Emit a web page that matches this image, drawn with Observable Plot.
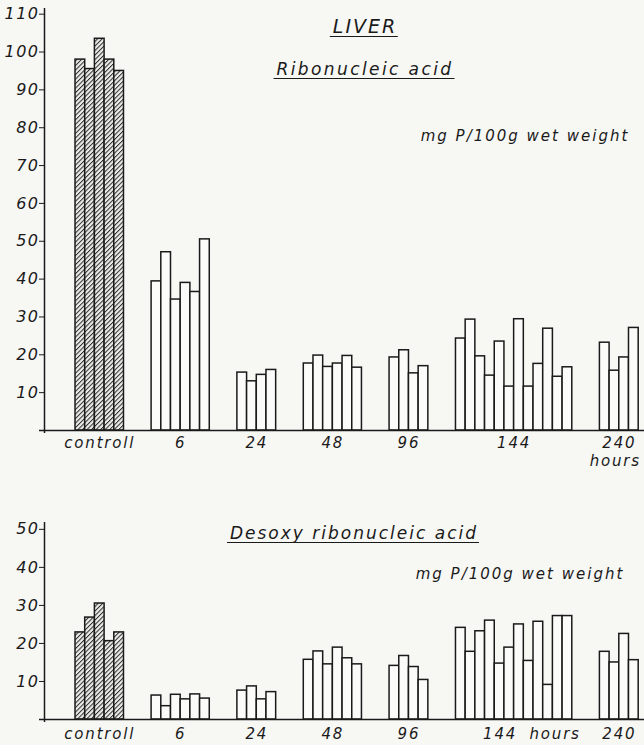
<!DOCTYPE html>
<html><head><meta charset="utf-8">
<script src="https://cdn.jsdelivr.net/npm/d3@7"></script>
<script src="https://cdn.jsdelivr.net/npm/@observablehq/plot@0.6"></script>
<style>
html,body{margin:0;padding:0;background:#f7f7f4;}
#wrap{position:relative;width:644px;height:745px;overflow:hidden;font-family:"DejaVu Sans",sans-serif;font-style:italic;color:#1a1a1a;}
.lbl{position:absolute;white-space:nowrap;transform:translateX(-50%);line-height:1;}
.ul{border-bottom:1.6px solid #1a1a1a;padding:0 1px 0 3px;}
#wrap svg{display:block;}
#wrap svg [aria-label^="y-axis"] text{font-size:16px;letter-spacing:1.5px;}
</style></head><body>
<svg width="0" height="0" style="position:absolute">
<defs><pattern id="hatch" patternUnits="userSpaceOnUse" width="3.2" height="3.2" patternTransform="rotate(45)">
<rect width="3.2" height="3.2" fill="#ececE8"/>
<line x1="0.5" y1="0" x2="0.5" y2="3.2" stroke="#2a2a2a" stroke-width="1"/></pattern></defs></svg>
<div id="wrap"></div>
<script>
// ---- data ----
const groups = ["controll", "6", "24", "48", "96", "144", "240"];
// Ribonucleic acid (mg P / 100 g wet weight), bars per group
const rnaControll = [98, 95.5, 103.5, 98, 95];
const rna6   = [39.4, 47.1, 34.6, 39.0, 36.6, 50.5];
const rna24  = [15.3, 13.0, 14.7, 16.0];
const rna48  = [17.7, 19.8, 16.8, 17.7, 19.7, 16.6];
const rna96  = [19.3, 21.2, 15.1, 17.0];
const rna144 = [24.3, 29.3, 19.6, 14.5, 23.5, 11.6, 29.4, 11.6, 17.6, 26.9, 14.2, 16.7];
const rna240 = [23.2, 15.8, 19.3, 27.1];
// Desoxyribonucleic acid
const dnaControll = [22.9, 26.8, 30.5, 20.6, 22.9];
const dna6   = [6.3, 3.5, 6.5, 5.3, 6.6, 5.5];
const dna24  = [7.6, 8.7, 5.3, 7.2];
const dna48  = [15.7, 17.9, 14.5, 18.9, 16.1, 14.5];
const dna96  = [14.1, 16.7, 13.8, 10.4];
const dna144 = [24.1, 17.8, 23.2, 26.0, 14.7, 18.9, 25.0, 15.4, 25.7, 9.1, 27.2, 27.2];
const dna240 = [17.8, 15.0, 22.5, 15.6];
const rnaTicks = [10, 20, 30, 40, 50, 60, 70, 80, 90, 100, 110];
const dnaTicks = [10, 20, 30, 40, 50];

const rnaValues = [rnaControll, rna6, rna24, rna48, rna96, rna144, rna240];
const dnaValues = [dnaControll, dna6, dna24, dna48, dna96, dna144, dna240];

// ---- layout in bar units ----
const gapUnits = 2.85;
function layout(values) {
  const bars = [], centers = [];
  let pos = 0;
  values.forEach((vals, gi) => {
    const start = pos;
    vals.forEach((v, i) => bars.push({group: groups[gi], x1: pos + i, x2: pos + i + 1, value: v, control: gi === 0}));
    pos += vals.length;
    centers.push({label: groups[gi], x: (start + pos) / 2});
    pos += gapUnits;
  });
  return {bars, centers, end: pos - gapUnits};
}

const ink = "#1a1a1a";
const baseStyle = {fontFamily: "DejaVu Sans", fontSize: "15px", fontStyle: "italic", letterSpacing: "1.8px",
  background: "transparent", color: ink, overflow: "visible"};

function chart(values, ticks, yMax, height, mt, mb, extraMarks) {
  const L = layout(values);
  const xDomain = [-3.2, L.end + 0.6];
  return Plot.plot({
    width: 644, height, marginLeft: 44, marginRight: 0, marginTop: mt, marginBottom: mb,
    style: baseStyle,
    x: {domain: xDomain, axis: null},
    y: {domain: [0, yMax], ticks, tickSize: 5, tickPadding: 0, label: null},
    marks: [
      Plot.rectY(L.bars.filter(d => d.control), {x1: "x1", x2: "x2", y: "value", fill: "url(#hatch)", stroke: ink, strokeWidth: 1.5}),
      Plot.rectY(L.bars.filter(d => !d.control), {x1: "x1", x2: "x2", y: "value", fill: "#fbfbf9", stroke: ink, strokeWidth: 1.5}),
      Plot.ruleY([0], {stroke: ink, strokeWidth: 1.5, insetLeft: -5}),
      Plot.ruleX([xDomain[0]], {stroke: ink, strokeWidth: 1.5, insetBottom: -3}),
      ...extraMarks(L)
    ]
  });
}

const wrap = document.getElementById("wrap");

const rnaChart = chart(rnaValues, rnaTicks, 111.5, 470, 8, 40, L => [
  Plot.text(L.centers, {x: "x", y: () => 0, text: "label", dy: 13, fill: ink}),
  Plot.text([L.centers[L.centers.length - 1]], {x: "x", y: () => 0, text: () => "hours", dy: 31, dx: -4, fill: ink})
]);
wrap.appendChild(rnaChart);

const dnaChart = chart(dnaValues, dnaTicks, 51.8, 275, 52, 26, L => [
  Plot.text(L.centers.filter(d => d.label !== "144"), {x: "x", y: () => 0, text: "label", dy: 15, fill: ink}),
  Plot.text(L.centers.filter(d => d.label === "144"), {x: "x", y: () => 0, text: "label", dy: 15, dx: -14, fill: ink}),
  Plot.text(L.centers.filter(d => d.label === "144"), {x: "x", y: () => 0, text: () => "hours", dy: 15, dx: 41, fill: ink})
]);
wrap.appendChild(dnaChart);

// ---- titles (HTML overlay) ----
function addLabel(text, cx, baseline, size, spacing, underline) {
  const d = document.createElement("div");
  d.className = "lbl" + (underline ? " ul" : "");
  d.textContent = text;
  d.style.fontSize = size + "px";
  d.style.letterSpacing = spacing + "px";
  d.style.left = cx + "px";
  d.style.top = (baseline - 0.846 * size) + "px";
  wrap.appendChild(d);
}
addLabel("LIVER", 364, 33.3, 19, 2, true);
addLabel("Ribonucleic acid", 364, 75, 17, 2.4, true);
addLabel("mg  P/100g wet weight", 525, 141.7, 15, 2, false);
addLabel("Desoxy ribonucleic acid", 353, 539.3, 17, 2, true);
addLabel("mg  P/100g wet weight", 520, 580, 15, 2, false);
</script>
</body></html>
